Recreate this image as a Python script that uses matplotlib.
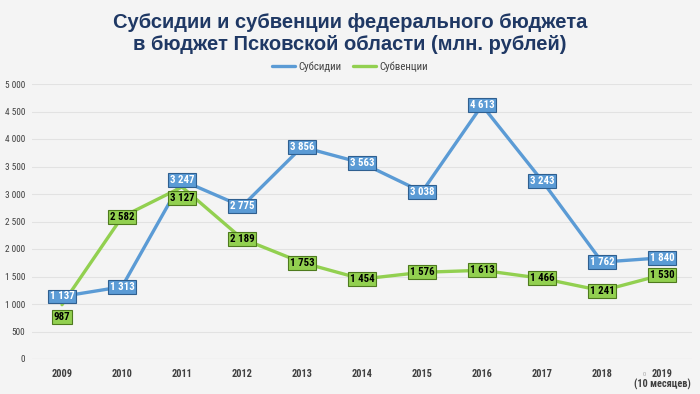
import matplotlib
matplotlib.use("Agg")
import matplotlib.pyplot as plt
from matplotlib import font_manager
from matplotlib.font_manager import FontProperties

years = ["2009", "2010", "2011", "2012", "2013", "2014", "2015", "2016", "2017", "2018", "2019"]
year_notes = ["", "", "", "", "", "", "", "", "", "", "(10 месяцев)"]
subsidies = [1137, 1313, 3247, 2775, 3856, 3563, 3038, 4613, 3243, 1762, 1840]
subventions = [987, 2582, 3127, 2189, 1753, 1454, 1576, 1613, 1466, 1241, 1530]
yticks = [0, 500, 1000, 1500, 2000, 2500, 3000, 3500, 4000, 4500, 5000]

files = [f.fname for f in font_manager.fontManager.ttflist]
def find(keys, bold):
    for k in keys:
        for fn in sorted(files):
            base = fn.split("/")[-1].lower()
            if k.lower() in base:
                isb = "bold" in base
                if isb == bold and "oblique" not in base and "italic" not in base:
                    return fn
    return None

cond_b = find(["LiberationSansNarrow-Bold", "RobotoCondensed-Bold", "DejaVuSansCondensed-Bold", "Roboto_Condensed-Bold"], True)
cond_r = find(["LiberationSansNarrow-Regular", "RobotoCondensed-Regular", "DejaVuSansCondensed.", "Roboto_Condensed-Regular"], False)

def fp(bold, size):
    fn = cond_b if bold else cond_r
    if fn:
        return FontProperties(fname=fn, size=size)
    return FontProperties(family="DejaVu Sans", weight="bold" if bold else "normal", size=size)

plt.rcParams['font.family'] = ["Liberation Sans", "DejaVu Sans"]

def fmt(v):
    return f"{v:,}".replace(",", " ")

BG = "#F4F4F4"
BLUE = "#5B9BD5"
GREEN = "#92D050"

fig = plt.figure(figsize=(7.0, 3.94), dpi=100, facecolor=BG)
ax = fig.add_axes([32/700, 35/394, 660/700, 275/394], facecolor=BG)

x = list(range(len(years)))
ax.plot(x, subsidies, color=BLUE, lw=2.4, solid_capstyle="round", zorder=3, label="Субсидии")
ax.plot(x, subventions, color=GREEN, lw=2.4, solid_capstyle="round", zorder=3, label="Субвенции")

for i, v in enumerate(subsidies):
    ax.annotate(fmt(v), (i, v), xytext=(0, 0), textcoords="offset points",
                ha="center", va="center", fontproperties=fp(True, 7.8), color="white", zorder=5,
                bbox=dict(boxstyle="square,pad=0.18", fc=BLUE, ec="#2F5F8F", lw=0.8))

green_off = {0: -9, 2: -8}
for i, v in enumerate(subventions):
    ax.annotate(fmt(v), (i, v), xytext=(0, green_off.get(i, 0)), textcoords="offset points",
                ha="center", va="center", fontproperties=fp(True, 7.8), color="black", zorder=4,
                bbox=dict(boxstyle="square,pad=0.18", fc=GREEN, ec="#4E7A1E", lw=0.8))

ax.set_xlim(-0.5, len(years) - 0.5)
ax.set_ylim(0, 5000)
ax.set_yticks(yticks)
ax.set_yticklabels([fmt(t) for t in yticks], color="#404040")
for lbl in ax.get_yticklabels():
    lbl.set_fontproperties(fp(False, 6.7))
ax.set_xticks(x)
ax.set_xticklabels(years, color="#404040")
for lbl in ax.get_xticklabels():
    lbl.set_fontproperties(fp(True, 7.5))
    lbl.set_verticalalignment("top")
for i, note in enumerate(year_notes):
    if note:
        ax.annotate(note, (i, 0), xycoords=ax.get_xaxis_transform(), xytext=(0, -14.5),
                    textcoords="offset points", ha="center", va="top",
                    fontproperties=fp(True, 7.5), color="#404040")
ax.tick_params(axis="both", length=0)
ax.tick_params(axis="y", pad=5)
ax.tick_params(axis="x", pad=7)
ax.grid(axis="y", color="#E2E2E2", lw=0.8)
ax.set_axisbelow(True)
for s in ax.spines.values():
    s.set_visible(False)
ax.axhline(0, color="#D9D9D9", lw=0.8, zorder=1)

fig.text(0.5, 1 - 33/394, "Субсидии и субвенции федерального бюджета\nв бюджет Псковской области (млн. рублей)",
         ha="center", va="center", fontsize=14.5, fontweight="bold", color="#1F3864", linespacing=1.2)

leg = fig.legend(loc="center", bbox_to_anchor=(0.5, 327/394), ncol=2, frameon=False,
                 prop=fp(False, 7.8),
                 handlelength=2.2, handletextpad=0.3, columnspacing=1.0)
for t in leg.get_texts():
    t.set_color("#404040")

fig.text(644/700, 1 - 374/394, "0", fontsize=4, color="#A0A0A0", ha="center", va="center")

fig.savefig("out.png", dpi=100, facecolor=BG)
